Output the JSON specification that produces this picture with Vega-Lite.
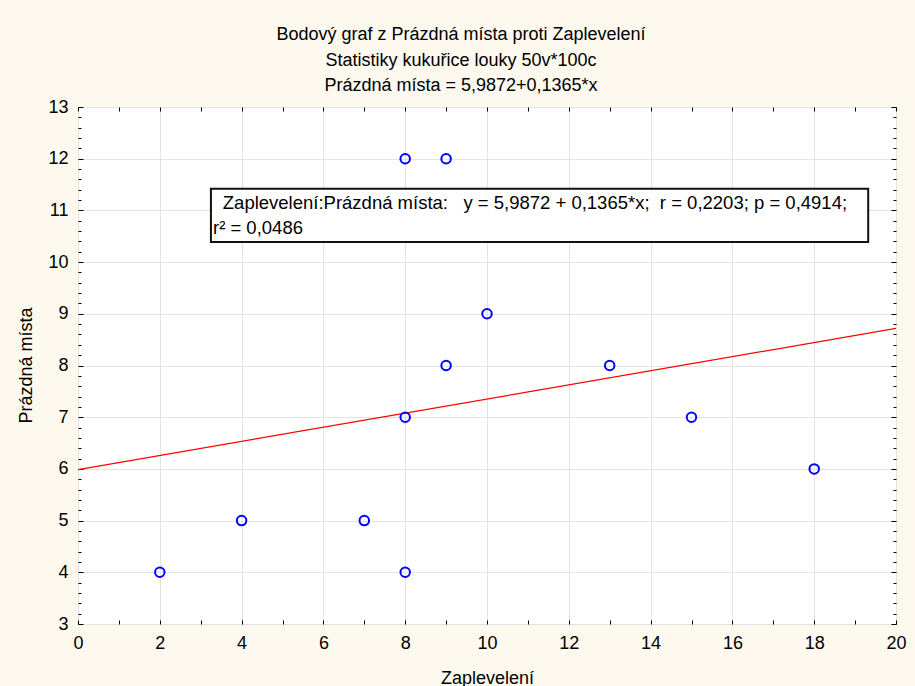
{
  "$schema": "https://vega.github.io/schema/vega-lite/v6.json",
  "width": 818,
  "height": 517,
  "autosize": {"type": "none"},
  "padding": {"left": 78, "top": 107, "right": 19, "bottom": 62},
  "background": "#fdf9ef",
  "config": {
    "view": {"stroke": "#000000", "strokeWidth": 1, "fill": "#ffffff"},
    "font": "Liberation Sans"
  },
  "title": {
    "text": ["Bodový graf z Prázdná místa proti Zaplevelení", "Statistiky kukuřice louky 50v*100c", "Prázdná místa = 5,9872+0,1365*x"],
    "fontSize": 18,
    "fontWeight": "normal",
    "font": "Liberation Sans",
    "color": "#000000",
    "lineHeight": 25.5,
    "anchor": "middle",
    "dx": -26,
    "offset": 3
  },
  "datasets": {
    "points": [
      {"zapleveleni": 2, "prazdna_mista": 4},
      {"zapleveleni": 4, "prazdna_mista": 5},
      {"zapleveleni": 7, "prazdna_mista": 5},
      {"zapleveleni": 8, "prazdna_mista": 4},
      {"zapleveleni": 8, "prazdna_mista": 7},
      {"zapleveleni": 8, "prazdna_mista": 12},
      {"zapleveleni": 9, "prazdna_mista": 12},
      {"zapleveleni": 9, "prazdna_mista": 8},
      {"zapleveleni": 10, "prazdna_mista": 9},
      {"zapleveleni": 13, "prazdna_mista": 8},
      {"zapleveleni": 15, "prazdna_mista": 7},
      {"zapleveleni": 18, "prazdna_mista": 6}
    ],
    "fit": [
      {"zapleveleni": 0, "prazdna_mista": 5.9872},
      {"zapleveleni": 20, "prazdna_mista": 8.7172}
    ],
    "note": [
      {"line1": "Zaplevelení:Prázdná místa:\u00a0\u00a0\u00a0y = 5,9872 + 0,1365*x;\u00a0\u00a0r = 0,2203; p = 0,4914;", "line2": "r² = 0,0486"}
    ]
  },
  "resolve": {"axis": {"x": "independent", "y": "independent"}},
  "layer": [
    {
      "data": {"name": "fit"},
      "mark": {"type": "line", "color": "#ff0000", "strokeWidth": 1.2, "clip": true},
      "encoding": {
        "x": {
          "field": "zapleveleni", "type": "quantitative",
          "scale": {"domain": [0, 20], "nice": false, "zero": false},
          "axis": {
            "orient": "bottom",
            "title": "Zaplevelení",
            "titleFontSize": 18, "titleFontWeight": "normal", "titleColor": "#000000",
            "titleX": 409, "titleY": 54, "titleAlign": "center", "titleBaseline": "middle",
            "values": [0,1,2,3,4,5,6,7,8,9,10,11,12,13,14,15,16,17,18,19,20],
            "labelExpr": "datum.value % 2 === 0 ? format(datum.value, 'd') : ''",
            "labelFontSize": 18, "labelColor": "#000000", "labelPadding": 14,
            "labelFlush": false, "labelOverlap": false,
            "domain": false,
            "tickSize": -4, "tickColor": "#000000", "tickWidth": 1,
            "grid": true,
            "gridColor": "#e3e3e3",
            "gridOpacity": {"condition": {"test": "datum.value % 2 === 0", "value": 1}, "value": 0}
          }
        },
        "y": {
          "field": "prazdna_mista", "type": "quantitative",
          "scale": {"domain": [3, 13], "nice": false, "zero": false},
          "axis": {
            "orient": "left",
            "title": "Prázdná místa",
            "titleFontSize": 18, "titleFontWeight": "normal", "titleColor": "#000000",
            "titleX": -52, "titleY": 258, "titleAlign": "center", "titleBaseline": "middle", "titleAngle": -90,
            "values": [3,3.2,3.4,3.6,3.8,4,4.2,4.4,4.6,4.8,5,5.2,5.4,5.6,5.8,6,6.2,6.4,6.6,6.8,7,7.2,7.4,7.6,7.8,8,8.2,8.4,8.6,8.8,9,9.2,9.4,9.6,9.8,10,10.2,10.4,10.6,10.8,11,11.2,11.4,11.6,11.8,12,12.2,12.4,12.6,12.8,13],
            "labelExpr": "datum.value % 1 === 0 ? format(datum.value, 'd') : ''",
            "labelFontSize": 18, "labelColor": "#000000", "labelPadding": 15,
            "labelFlush": false, "labelOverlap": false,
            "domain": false,
            "tickSize": {"condition": {"test": "datum.value % 1 === 0", "value": -5}, "value": -3},
            "tickColor": "#000000", "tickWidth": 1,
            "grid": true,
            "gridColor": "#e3e3e3",
            "gridOpacity": {"condition": {"test": "datum.value % 1 === 0", "value": 1}, "value": 0}
          }
        }
      }
    },
    {
      "data": {"name": "points"},
      "mark": {"type": "point", "shape": "circle", "filled": false, "color": "#0000ff", "size": 90, "strokeWidth": 2, "opacity": 1},
      "encoding": {
        "x": {
          "field": "zapleveleni", "type": "quantitative",
          "axis": {
            "orient": "top", "title": null, "labels": false, "domain": false, "grid": false,
            "values": [0,1,2,3,4,5,6,7,8,9,10,11,12,13,14,15,16,17,18,19,20],
            "tickSize": -4, "tickColor": "#000000"
          }
        },
        "y": {
          "field": "prazdna_mista", "type": "quantitative",
          "axis": {
            "orient": "right", "title": null, "labels": false, "domain": false, "grid": false,
            "values": [3,3.2,3.4,3.6,3.8,4,4.2,4.4,4.6,4.8,5,5.2,5.4,5.6,5.8,6,6.2,6.4,6.6,6.8,7,7.2,7.4,7.6,7.8,8,8.2,8.4,8.6,8.8,9,9.2,9.4,9.6,9.8,10,10.2,10.4,10.6,10.8,11,11.2,11.4,11.6,11.8,12,12.2,12.4,12.6,12.8,13],
            "tickSize": {"condition": {"test": "datum.value % 1 === 0", "value": -5}, "value": -3},
            "tickColor": "#000000"
          }
        }
      }
    },
    {
      "data": {"name": "note"},
      "mark": {"type": "rect", "fill": "#ffffff", "stroke": "#111111", "strokeWidth": 2},
      "encoding": {
        "x": {"datum": 3.25, "type": "quantitative", "axis": null},
        "x2": {"datum": 19.32},
        "y": {"datum": 11.42, "type": "quantitative", "axis": null},
        "y2": {"datum": 10.39}
      }
    },
    {
      "data": {"name": "note"},
      "mark": {"type": "text", "align": "left", "baseline": "middle", "fontSize": 18.5, "color": "#000000"},
      "encoding": {
        "x": {"datum": 3.54, "type": "quantitative", "axis": null},
        "y": {"datum": 11.14, "type": "quantitative", "axis": null},
        "text": {"field": "line1"}
      }
    },
    {
      "data": {"name": "note"},
      "mark": {"type": "text", "align": "left", "baseline": "middle", "fontSize": 18.5, "color": "#000000"},
      "encoding": {
        "x": {"datum": 3.3, "type": "quantitative", "axis": null},
        "y": {"datum": 10.66, "type": "quantitative", "axis": null},
        "text": {"field": "line2"}
      }
    }
  ]
}
